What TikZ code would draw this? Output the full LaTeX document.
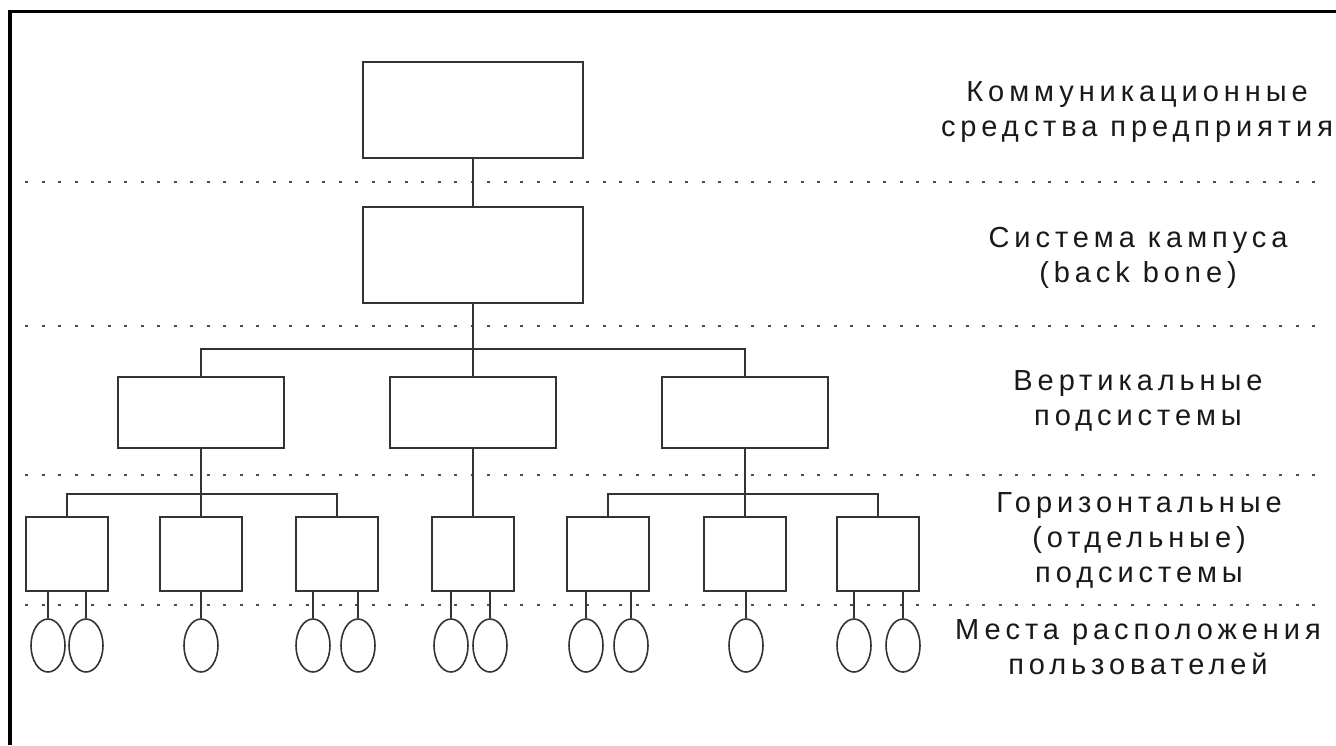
\documentclass[tikz,border=0pt]{standalone}
\usepackage{fontspec}
\newfontfamily\lvlfont{Liberation Sans}[LetterSpace=17]
\usetikzlibrary{shapes.geometric}

\begin{document}
\begin{tikzpicture}[x=0.5pt, y=-0.5pt, font=\lvlfont\fontsize{14.5}{17.5}\selectfont,
  bigbox/.style={draw=black!80, line width=1pt, minimum width=110pt, minimum height=48pt, inner sep=0pt},
  vbox/.style={draw=black!80, line width=1pt, minimum width=83pt, minimum height=35.5pt, inner sep=0pt},
  hbox/.style={draw=black!80, line width=1pt, minimum width=41pt, minimum height=37pt, inner sep=0pt},
  user/.style={draw=black!80, line width=0.8pt, ellipse, minimum width=17pt, minimum height=26.5pt, inner sep=0pt},
  wire/.style={draw=black!80, line width=1pt},
  level/.style={draw=black!70, line width=1pt, dash pattern=on 1.5pt off 6.75pt},
  caption/.style={align=center, text=black!90}]
  \useasboundingbox (0,0) rectangle (1336,745);
  % frame: only left and top edges are visible
  \draw[line width=1.6pt] (10,745) -- (10,11.5) -- (1336,11.5);
  % dotted level separators
  \foreach \yy in {182,326,475,605}
    \draw[level] (25,\yy) -- (1318,\yy);
  % enterprise and campus
  \node[bigbox] (comm) at (473,109.5) {};
  \node[bigbox] (campus) at (473,255) {};
  % vertical subsystems
  \node[vbox] (v1) at (201,412.5) {};
  \node[vbox] (v2) at (473,412.5) {};
  \node[vbox] (v3) at (745,412.5) {};
  % horizontal subsystems
  \foreach \n/\xx in {1/67,2/201,3/337,4/473,5/608,6/745,7/878}
    \node[hbox] (h\n) at (\xx,554) {};
  % user places, each hung from its box
  \foreach \n/\xx/\p in {1/48/1,2/86/1,3/201/2,4/313/3,5/358/3,6/451/4,
                         7/490/4,8/586/5,9/631/5,10/746/6,11/854/7,12/903/7} {
    \node[user] (u\n) at (\xx,645.5) {};
    \draw[wire] (u\n.north) -- (u\n.north |- h\p.south);
  }
  % tree connectors
  \coordinate (bus1) at (473,349);
  \coordinate (bus2) at (201,494);
  \coordinate (bus3) at (745,494);
  \draw[wire] (comm.south) -- (campus.north);
  \draw[wire] (campus.south) -- (v2.north);
  \draw[wire] (v1.north) |- (bus1) -| (v3.north);
  \draw[wire] (v1.south) -- (h2.north);
  \draw[wire] (h1.north) |- (bus2) -| (h3.north);
  \draw[wire] (v2.south) -- (h4.north);
  \draw[wire] (v3.south) -- (h6.north);
  \draw[wire] (h5.north) |- (bus3) -| (h7.north);
  % level captions
  \node[caption] (l1) at (1137,112) {Коммуникационные\\средства предприятия};
  \node[caption] (l2) at (1138,258) {Система кампуса\\(back bone)};
  \node[caption] (l3) at (1138,401) {Вертикальные\\подсистемы};
  \node[caption] (l4) at (1139,540) {Горизонтальные\\(отдельные)\\подсистемы};
  \node[caption] (l5) at (1138,647) {Места расположения\\пользователей};
\end{tikzpicture}
\end{document}
